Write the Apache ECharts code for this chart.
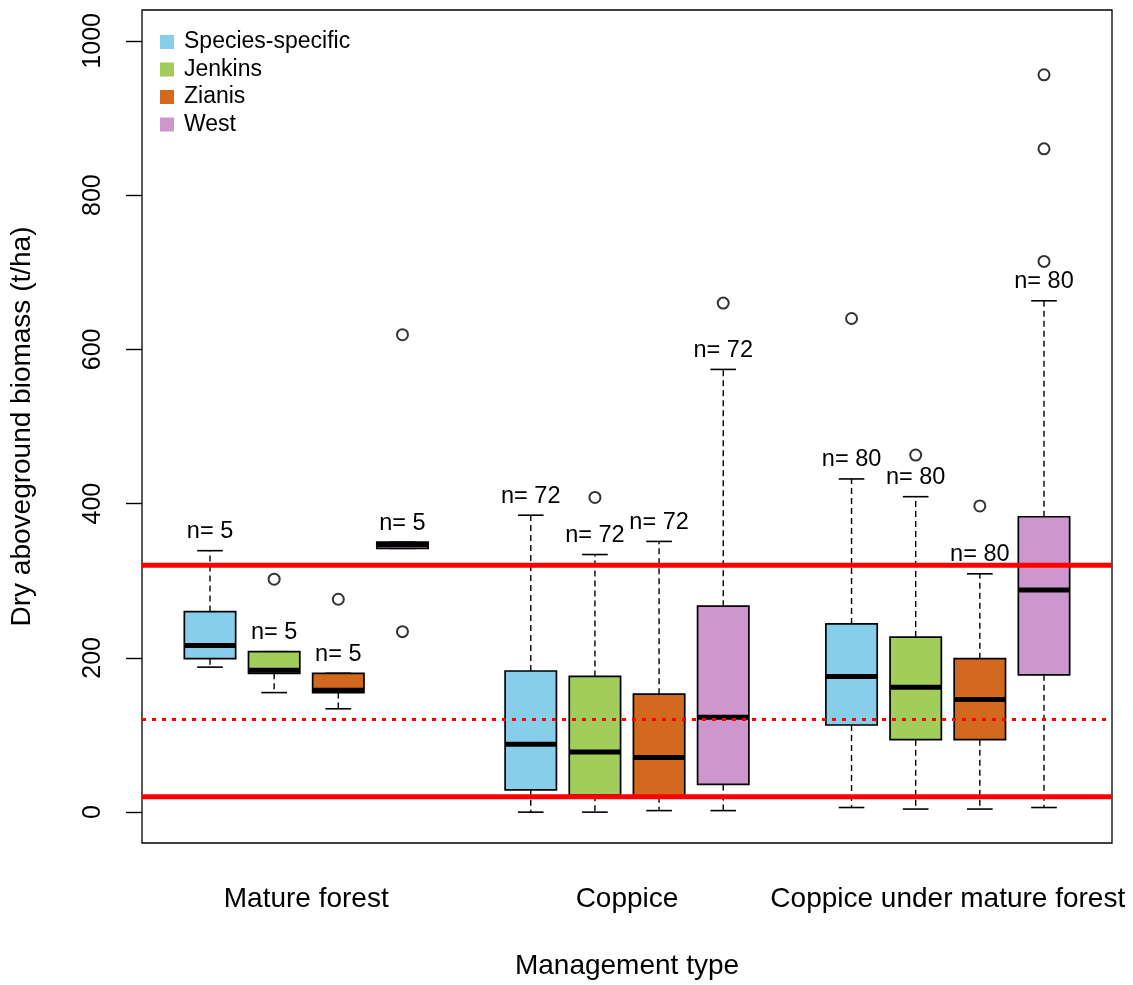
<!DOCTYPE html>
<html>
<head>
<meta charset="utf-8">
<script src="https://cdn.jsdelivr.net/npm/echarts@6/dist/echarts.min.js"></script>
<style>
  html, body { margin: 0; padding: 0; background: #fff; }
  #chart { width: 1133px; height: 985px; }
</style>
</head>
<body>
<div id="chart"></div>
<script>
// ---- Data ----
const groups = ['Mature forest', 'Coppice', 'Coppice under mature forest'];
const methods = ['Species-specific', 'Jenkins', 'Zianis', 'West'];
const methodColors = ['#87CEEB', '#A2CD5A', '#D2691E', '#CD96CD'];
const sampleSizes = [5, 72, 80];
// rows = methods, columns = groups
const whiskerLow  = [[188, 0, 6],   [155, 0, 4],   [134, 2, 4],   [342, 2, 6]];
const quartile1   = [[199, 29, 113],[180, 22, 94], [155, 20, 94], [342, 36, 178]];
const medians     = [[216, 88, 176],[184, 78, 162],[158, 71, 146],[347, 123, 288]];
const quartile3   = [[260, 183, 244],[208, 176, 227],[180, 153, 199],[350, 267, 383]];
const whiskerHigh = [[339, 385, 432],[208, 334, 409],[180, 351, 309],[350, 574, 663]];
// outliers per method: [groupIndex, value]
const outliersSpecies = [[2, 640]];
const outliersJenkins = [[0, 302], [1, 408], [2, 463]];
const outliersZianis  = [[0, 276], [2, 397]];
const outliersWest    = [[0, 234], [0, 619], [1, 660], [2, 714], [2, 860], [2, 956]];
const outlierSets = [outliersSpecies, outliersJenkins, outliersZianis, outliersWest];
const referenceLines = [20, 320];
const referenceDotted = [120];
const yTicks = [0, 200, 400, 600, 800, 1000];

// ---- Layout helpers ----
const FONT = '"Liberation Sans", Arial, Helvetica, sans-serif';
const BOX_WIDTH = 0.8;
const slot = (g, m) => g * 5 + m + 1;   // box positions 1-4, 6-9, 11-14

function renderBox(params, api) {
  const x = api.value(0);
  const low = api.value(1), q1 = api.value(2), med = api.value(3), q3 = api.value(4), high = api.value(5);
  const n = api.value(6);
  const w = api.size([BOX_WIDTH, 0])[0];
  const cx = api.coord([x, med])[0];
  const yLow = api.coord([x, low])[1];
  const yQ1 = api.coord([x, q1])[1];
  const yMed = api.coord([x, med])[1];
  const yQ3 = api.coord([x, q3])[1];
  const yHigh = api.coord([x, high])[1];
  const color = api.visual('color');
  const dashStyle = { stroke: '#000', lineWidth: 1.4, lineDash: [6, 4] };
  const solid = { stroke: '#000', lineWidth: 1.6 };
  return {
    type: 'group',
    children: [
      { type: 'line', shape: { x1: cx, y1: yQ3, x2: cx, y2: yHigh }, style: dashStyle },
      { type: 'line', shape: { x1: cx, y1: yQ1, x2: cx, y2: yLow }, style: dashStyle },
      { type: 'line', shape: { x1: cx - w / 4, y1: yHigh, x2: cx + w / 4, y2: yHigh }, style: solid },
      { type: 'line', shape: { x1: cx - w / 4, y1: yLow, x2: cx + w / 4, y2: yLow }, style: solid },
      { type: 'rect', shape: { x: cx - w / 2, y: yQ3, width: w, height: yQ1 - yQ3 },
        style: { fill: color, stroke: '#000', lineWidth: 1.7 } },
      { type: 'line', shape: { x1: cx - w / 2, y1: yMed, x2: cx + w / 2, y2: yMed },
        style: { stroke: '#000', lineWidth: 5 } },
      { type: 'text', x: cx, y: yHigh - 7,
        style: { text: 'n= ' + n, fill: '#000', font: '23.5px ' + FONT, align: 'center', verticalAlign: 'bottom' } }
    ]
  };
}

function renderRefLine(params, api) {
  const cs = params.coordSys;
  const y = api.coord([0, api.value(0)])[1];
  const dotted = api.value(1) === 1;
  return {
    type: 'line',
    shape: { x1: cs.x, y1: y, x2: cs.x + cs.width, y2: y },
    style: dotted ? { stroke: '#FF0000', lineWidth: 3, lineDash: [4, 6] }
                  : { stroke: '#FF0000', lineWidth: 5 }
  };
}

const series = [];
methods.forEach((name, m) => {
  const data = groups.map((g, gi) => [
    slot(gi, m), whiskerLow[m][gi], quartile1[m][gi], medians[m][gi],
    quartile3[m][gi], whiskerHigh[m][gi], sampleSizes[gi]
  ]);
  series.push({
    name: name,
    type: 'custom',
    renderItem: renderBox,
    itemStyle: { color: methodColors[m] },
    encode: { x: 0, y: [1, 2, 3, 4, 5] },
    data: data,
    z: 2
  });
});
series.push({
  name: 'outliers',
  type: 'scatter',
  symbol: 'emptyCircle',
  symbolSize: 11,
  itemStyle: { color: '#000', borderColor: '#000', borderWidth: 1.1 },
  data: outlierSets.flatMap((set, m) => set.map(([gi, v]) => [slot(gi, m), v])),
  z: 3
});
series.push({
  name: 'reference',
  type: 'custom',
  renderItem: renderRefLine,
  encode: { y: 0 },
  data: referenceLines.map(v => [v, 0]).concat(referenceDotted.map(v => [v, 1])),
  z: 5,
  silent: true
});

const chart = echarts.init(document.getElementById('chart'), null, { renderer: 'canvas' });
chart.setOption({
  backgroundColor: '#fff',
  animation: false,
  textStyle: { fontFamily: FONT, color: '#000' },
  grid: { left: 141, right: 21, top: 10, bottom: 142, show: true, borderColor: '#000', borderWidth: 1.3, backgroundColor: 'transparent' },
  legend: {
    data: methods,
    orient: 'vertical',
    left: 155, top: 25,
    itemWidth: 14, itemHeight: 14, itemGap: 3.5,
    icon: 'rect',
    textStyle: { fontSize: 23, color: '#000', fontFamily: FONT, lineHeight: 24, padding: [0, 0, 0, 5] }
  },
  xAxis: {
    type: 'value',
    min: -0.06, max: 15.06,
    splitLine: { show: false },
    axisLine: { show: false, onZero: false },
    axisTick: { show: false },
    axisLabel: {
      customValues: [2.5, 7.5, 12.5],
      formatter: v => groups[Math.round((v - 2.5) / 5)],
      fontSize: 28, color: '#000', margin: 42, fontFamily: FONT
    },
    name: 'Management type',
    nameLocation: 'middle',
    nameGap: 109,
    nameTextStyle: { fontSize: 28, color: '#000', fontFamily: FONT }
  },
  yAxis: {
    type: 'value',
    min: -40, max: 1040,
    splitLine: { show: false },
    axisLine: { show: false, onZero: false },
    axisTick: { show: true, customValues: yTicks, length: 16, lineStyle: { color: '#000', width: 1.4 } },
    axisLabel: { customValues: yTicks, formatter: v => String(v), rotate: 90, fontSize: 25, color: '#000', margin: 36, fontFamily: FONT },
    name: 'Dry aboveground biomass (t/ha)',
    nameLocation: 'middle',
    nameGap: 106,
    nameRotate: 90,
    nameTextStyle: { fontSize: 28, color: '#000', fontFamily: FONT }
  },
  series: series
});
</script>
</body>
</html>
